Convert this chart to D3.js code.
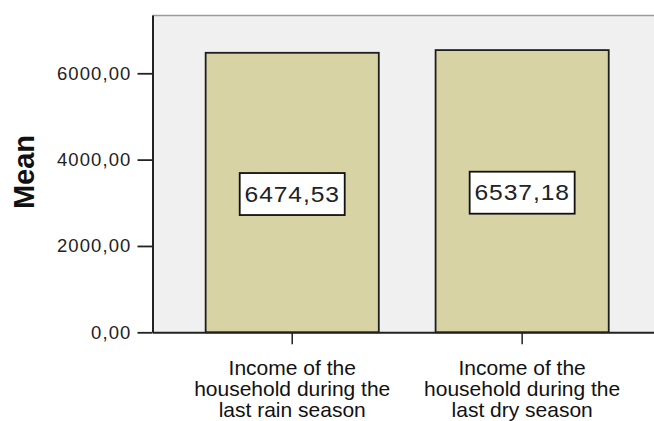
<!DOCTYPE html>
<html><head><meta charset="utf-8">
<script src="https://cdn.jsdelivr.net/npm/d3@7"></script>
<style>body{margin:0;background:#fff}svg{display:block}text{font-family:"Liberation Sans",Arial,sans-serif}</style>
</head><body><svg id="c" width="654" height="421"></svg>
<script>
const categories = [
  ["Income of the","household during the","last rain season"],
  ["Income of the","household during the","last dry season"]
];
const values = [6474.53, 6537.18];
const valueLabels = ["6474,53", "6537,18"];
const yTicks = [0, 2000, 4000, 6000];
const yTickLabels = ["0,00", "2000,00", "4000,00", "6000,00"];
const yTitle = "Mean";

const svg = d3.select("#c");
const L = 152.5, T = 15, R = 654, B = 332.3;
const y = d3.scaleLinear().domain([0, 7350]).range([B, T]);
const x = d3.scaleBand().domain(d3.range(values.length)).range([L, R])
  .paddingInner(0.247).paddingOuter(0.214).align(0.54);

svg.append("rect").attr("x", L).attr("y", T).attr("width", R - L).attr("height", B - T).attr("fill", "#f0f0f0");
svg.append("line").attr("x1", L).attr("x2", R).attr("y1", T + 0.5).attr("y2", T + 0.5).attr("stroke", "#9a9a9a").attr("stroke-width", 1.5);

svg.selectAll("rect.bar").data(values).join("rect").attr("class", "bar")
  .attr("x", (d, i) => x(i)).attr("width", x.bandwidth())
  .attr("y", d => y(d)).attr("height", d => B - y(d))
  .attr("fill", "#d7d3a4").attr("stroke", "#1e1e1e").attr("stroke-width", 1.8);

// y axis
const yAxis = d3.axisLeft(y).tickValues(yTicks).tickFormat((d, i) => yTickLabels[i]).tickSizeInner(15).tickSizeOuter(0).tickPadding(6);
const ga = svg.append("g").attr("transform", `translate(${L},0)`).call(yAxis);
ga.select(".domain").attr("stroke", "#222").attr("stroke-width", 2);
ga.selectAll(".tick line").attr("stroke", "#222").attr("stroke-width", 1.8);
ga.selectAll(".tick text").attr("fill", "#222").style("font-size", "18.5px").style("letter-spacing", "1.1px")
  .style("font-family", '"Liberation Sans",Arial,sans-serif');

// x axis
const xAxis = d3.axisBottom(x).tickSizeInner(12).tickSizeOuter(0).tickFormat("");
const gx = svg.append("g").attr("transform", `translate(0,${B})`).call(xAxis);
gx.select(".domain").attr("stroke", "#222").attr("stroke-width", 2);
gx.selectAll(".tick line").attr("stroke", "#222").attr("stroke-width", 1.5);

// category labels
categories.forEach((lines, i) => {
  const cx = x(i) + x.bandwidth() / 2;
  const t = svg.append("text").attr("text-anchor", "middle").attr("fill", "#111").style("font-size", "21px");
  lines.forEach((ln, k) => t.append("tspan").attr("x", cx).attr("y", 375 + k * 20.8).text(ln));
});

// value label boxes
values.forEach((v, i) => {
  const cx = x(i) + x.bandwidth() / 2, cy = y(v / 2) + 1.5;
  const g = svg.append("g");
  g.append("rect").attr("x", cx - 52.5).attr("y", cy - 21).attr("width", 105).attr("height", 42)
    .attr("fill", "#fff").attr("stroke", "#111").attr("stroke-width", 1.8);
  g.append("text").attr("transform", `translate(${cx},${cy}) scale(1.12,1)`).attr("text-anchor", "middle").attr("dominant-baseline", "central")
    .attr("fill", "#222").style("font-size", "22px").style("letter-spacing", "0.8px").text(valueLabels[i]);
});

// y title
svg.append("text").attr("transform", `translate(34,172) rotate(-90)`).attr("text-anchor", "middle")
  .style("font-size", "29px").style("font-weight", "bold").attr("fill", "#111").text(yTitle);
</script></body></html>
